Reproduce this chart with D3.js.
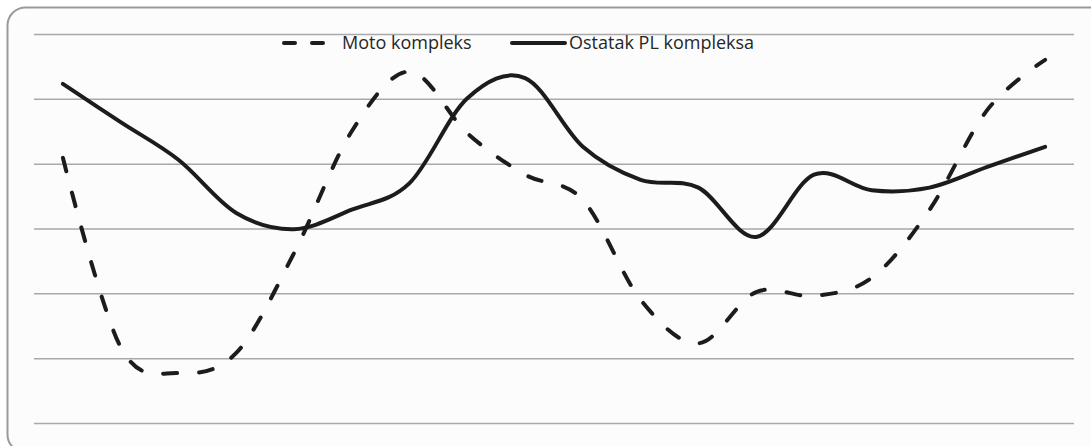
<!DOCTYPE html>
<html>
<head>
<meta charset="utf-8">
<script src="https://cdn.jsdelivr.net/npm/d3@7"></script>
<style>
  body { margin: 0; background: #fff; }
  svg { display: block; }
</style>
</head>
<body>
<svg id="chart" width="1091" height="446"></svg>
<script>
const categories = d3.range(1, 19);
const motoValues = [40.9, 11.7, 7.7, 10.8, 26.2, 45.0, 54.2, 44.7, 38.3, 34.4, 19.0, 12.3, 20.2, 19.6, 22.4, 32.9, 48.3, 56.0];
const ostatakValues = [52.3, 46.4, 40.6, 32.4, 29.9, 32.9, 37.0, 50.1, 53.2, 42.6, 37.5, 36.3, 28.7, 38.3, 35.9, 36.3, 39.5, 42.6];
const gridTicks = [0, 10, 20, 30, 40, 50, 60];
const seriesNames = ["Moto kompleks", "Ostatak PL kompleksa"];

const svg = d3.select("#chart");
const margin = {top: 34, right: 17, bottom: 23, left: 34};
const width = +svg.attr("width");
const height = +svg.attr("height");
const innerWidth = width - margin.left - margin.right;
const innerHeight = height - margin.top - margin.bottom;

// chart frame
svg.append("rect")
    .attr("x", 7.5).attr("y", 7.5)
    .attr("width", 1100).attr("height", 445)
    .attr("rx", 18).attr("ry", 18)
    .attr("fill", "#fcfcfc")
    .attr("stroke", "#9a9a9a")
    .attr("stroke-width", 2);

const chart = svg.append("g")
    .attr("transform", "translate(" + margin.left + "," + margin.top + ")");

const x = d3.scaleBand()
    .domain(categories)
    .range([0, innerWidth]);

const y = d3.scaleLinear()
    .domain([0, 60])
    .range([innerHeight, 0]);

// horizontal gridlines
chart.append("g")
    .call(d3.axisLeft(y).tickValues(gridTicks).tickSize(-innerWidth).tickFormat(""))
    .call(g => g.select(".domain").remove())
    .call(g => g.selectAll(".tick line")
        .attr("stroke", "#a9a9a9")
        .attr("stroke-width", 1.5));

const line = d3.line()
    .x((d, i) => x(categories[i]) + x.bandwidth() / 2)
    .y(d => y(d))
    .curve(d3.curveCatmullRom.alpha(0));

chart.append("path")
    .datum(ostatakValues)
    .attr("fill", "none")
    .attr("stroke", "#1c1c1c")
    .attr("stroke-width", 4)
    .attr("stroke-linecap", "round")
    .attr("stroke-linejoin", "round")
    .attr("d", line);

chart.append("path")
    .datum(motoValues)
    .attr("fill", "none")
    .attr("stroke", "#1c1c1c")
    .attr("stroke-width", 4)
    .attr("stroke-linecap", "round")
    .attr("stroke-dasharray", "14,22")
    .attr("d", line);

// legend
const legend = svg.append("g").attr("transform", "translate(0,43)");

legend.append("line")
    .attr("x1", 284).attr("x2", 323)
    .attr("stroke", "#1c1c1c")
    .attr("stroke-width", 4)
    .attr("stroke-linecap", "round")
    .attr("stroke-dasharray", "11,17");

legend.append("text")
    .attr("x", 342).attr("y", 6)
    .attr("font-family", "Open Sans, sans-serif")
    .attr("font-size", 18)
    .attr("fill", "#262626")
    .text(seriesNames[0]);

legend.append("line")
    .attr("x1", 512).attr("x2", 565)
    .attr("stroke", "#1c1c1c")
    .attr("stroke-width", 4)
    .attr("stroke-linecap", "round");

legend.append("text")
    .attr("x", 569).attr("y", 6)
    .attr("font-family", "Open Sans, sans-serif")
    .attr("font-size", 18)
    .attr("fill", "#262626")
    .text(seriesNames[1]);
</script>
</body>
</html>
